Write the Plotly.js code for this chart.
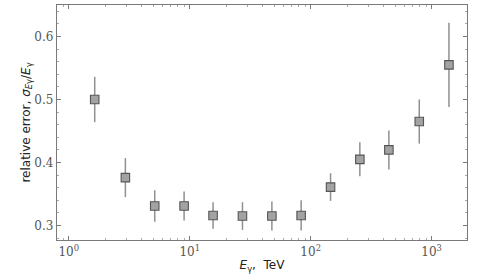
<!DOCTYPE html>
<html>
<head>
<meta charset="utf-8">
<script src="https://cdn.plot.ly/plotly-3.0.1.min.js"></script>
<style>html,body{margin:0;padding:0;background:#fff;}#chart{width:479px;height:274px;}</style>
</head>
<body>
<div id="chart"></div>
<script>
// Data
const energyTeV = [1.64, 2.94, 5.14, 8.99, 15.6, 27.3, 47.8, 83.4, 146, 255, 443, 790, 1390];
const relError  = [0.500, 0.376, 0.331, 0.331, 0.316, 0.315, 0.315, 0.316, 0.361, 0.405, 0.420, 0.465, 0.555];
const errPlus   = [0.036, 0.031, 0.025, 0.023, 0.021, 0.022, 0.023, 0.024, 0.022, 0.027, 0.031, 0.035, 0.067];
const xTickVals = [1, 10, 100, 1000];
const xTickText = ['10<sup>0</sup>', '10<sup>1</sup>', '10<sup>2</sup>', '10<sup>3</sup>'];
const yTickVals = [0.3, 0.4, 0.5, 0.6];
const yTickText = ['0.3', '0.4', '0.5', '0.6'];

// minor tick positions (axis decoration only)
const xMinor = [];
[0.1, 1, 10, 100, 1000].forEach(d => { for (let k = 2; k <= 9; k++) xMinor.push(k * d); });
const yMinor = [];
for (let k = 14; k <= 32; k++) yMinor.push(+(k * 0.02).toFixed(2));

const axisColor = '#7a7a7a';
const tickFont = {family: 'DejaVu Serif, Liberation Serif, serif', size: 12, color: '#555'};

const trace = {
  x: energyTeV,
  y: relError,
  type: 'scatter',
  mode: 'markers',
  marker: {symbol: 'square', size: 8.5, color: '#a3a3a3', line: {color: '#555', width: 1.1}},
  error_y: {type: 'data', array: errPlus, visible: true, color: '#909090', thickness: 1.5, width: 0},
  hoverinfo: 'skip'
};

const layout = {
  width: 479, height: 274,
  margin: {l: 57, r: 12, t: 5, b: 34},
  paper_bgcolor: '#fff', plot_bgcolor: '#fff',
  showlegend: false,
  xaxis: {
    type: 'log',
    range: [Math.log10(0.8), Math.log10(1960)],
    tickmode: 'array', tickvals: xTickVals, ticktext: xTickText,
    ticks: 'inside', ticklen: 4, tickcolor: axisColor, tickwidth: 1,
    minor: {tickmode: 'array', tickvals: xMinor, ticks: 'inside', ticklen: 2, tickcolor: '#aaa', showgrid: false},
    showline: true, linecolor: axisColor, linewidth: 1.2, mirror: 'ticks',
    showgrid: false, zeroline: false,
    tickfont: tickFont,
    title: {text: '<i>E</i><sub>γ</sub>,  TeV', font: {family: 'DejaVu Sans, sans-serif', size: 12, color: '#222'}, standoff: 3}
  },
  yaxis: {
    range: [0.277, 0.65],
    tickmode: 'array', tickvals: yTickVals, ticktext: yTickText,
    ticks: 'inside', ticklen: 4, tickcolor: axisColor, tickwidth: 1,
    minor: {tickmode: 'array', tickvals: yMinor, ticks: 'inside', ticklen: 2, tickcolor: '#aaa', showgrid: false},
    showline: true, linecolor: axisColor, linewidth: 1.2, mirror: 'ticks',
    showgrid: false, zeroline: false,
    tickfont: tickFont,
    title: {text: 'relative error, <i>σ</i><sub><i>E</i>γ</sub>/<i>E</i><sub>γ</sub>', font: {family: 'DejaVu Sans, sans-serif', size: 12, color: '#222'}, standoff: 0}
  }
};

Plotly.newPlot('chart', [trace], layout, {displayModeBar: false, staticPlot: true});
</script>
</body>
</html>
